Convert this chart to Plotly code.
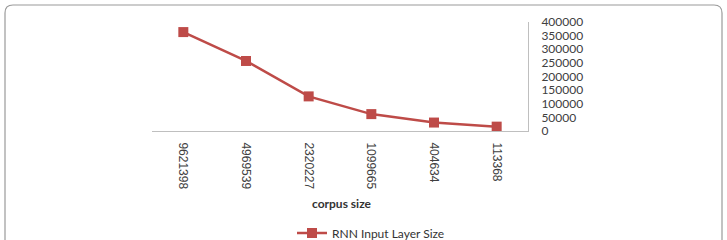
import plotly.graph_objects as go

categories = ["9621398", "4969539", "2320227", "1099665", "404634", "113368"]
rnn_input_layer_size = [363000, 257000, 127000, 62000, 31000, 16000]
y_ticks = [0, 50000, 100000, 150000, 200000, 250000, 300000, 350000, 400000]

W, H = 727, 240
L, R, T, B = 152, 199, 22, 109
pw, ph = W - L - R, H - T - B

def px_x(px):
    return (px - L) / pw

def px_y(py):
    return (H - B - py) / ph

red = "#BE4B48"
calib = "Lato, Carlito, Calibri, sans-serif"

fig = go.Figure()
fig.add_trace(go.Scatter(
    x=categories, y=rnn_input_layer_size, mode="lines+markers",
    name="RNN Input Layer Size",
    line=dict(color=red, width=2.5),
    marker=dict(symbol="square", size=10, color=red),
))

# rounded outer border
x0, x1 = px_x(5), px_x(722)
y0, y1 = px_y(250), px_y(5)
rx, ry = 8 / pw, 8 / ph
path = (f"M {x0+rx},{y1} L {x1-rx},{y1} Q {x1},{y1} {x1},{y1-ry} "
        f"L {x1},{y0+ry} Q {x1},{y0} {x1-rx},{y0} L {x0+rx},{y0} "
        f"Q {x0},{y0} {x0},{y0+ry} L {x0},{y1-ry} Q {x0},{y1} {x0+rx},{y1} Z")
fig.add_shape(type="path", path=path, xref="paper", yref="paper",
              line=dict(color="#9a9a9a", width=1.2), layer="below")

fig.add_annotation(text="<b>corpus size</b>", xref="paper", yref="paper",
                   x=px_x(342), y=px_y(203), xanchor="center", yanchor="middle", showarrow=False,
                   font=dict(family=calib, size=12, color="#333333"))

fig.update_layout(
    width=W, height=H,
    margin=dict(l=L, r=R, t=T, b=B, autoexpand=False),
    paper_bgcolor="white", plot_bgcolor="white",
    showlegend=True,
    legend=dict(orientation="h", x=px_x(292), xanchor="left", yref="container", y=(H - 233) / H,
                yanchor="middle",
                font=dict(family=calib, size=12, color="#333333"),
                itemwidth=30, bgcolor="rgba(0,0,0,0)"),
    xaxis=dict(type="category", range=[-0.5, 5.5], showline=True, linecolor="#BFBFBF", linewidth=1,
               showgrid=False, zeroline=False, ticks="", tickangle=90, automargin=False,
               ticklabelstandoff=8,
               tickfont=dict(family="Liberation Sans, Arial, sans-serif", size=12, color="#404040")),
    yaxis=dict(side="right", range=[0, 400000], tickvals=y_ticks, ticktext=[str(v) for v in y_ticks],
               showline=True, linecolor="#BFBFBF", linewidth=1, showgrid=False, zeroline=False,
               ticks="", ticklabelstandoff=10, automargin=False,
               tickfont=dict(family=calib, size=12, color="#404040")),
)

fig.write_html("out.html")
